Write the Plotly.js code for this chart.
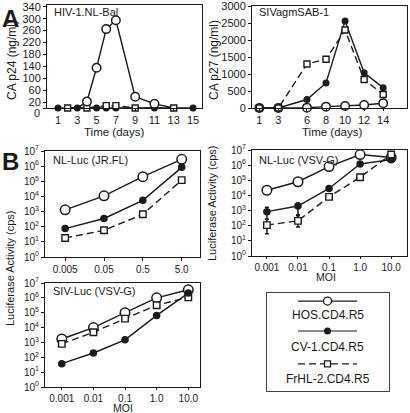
<!DOCTYPE html>
<html>
<head>
<meta charset="utf-8">
<script src="https://cdn.plot.ly/plotly-3.0.1.min.js"></script>
<style>html,body{margin:0;padding:0;background:#fff;}#chart{width:410px;height:413px;}</style>
</head>
<body>
<div id="chart"></div>
<script>
// ---------- DATA ----------
var seriesNames = ['HOS.CD4.R5', 'CV-1.CD4.R5', 'FrHL-2.CD4.R5'];

// Panel A left: HIV-1.NL-Bal, CA p24 (ng/ml)
var hivHosDays = [3, 4, 5, 6, 7, 9, 11, 13];
var hivHosP24  = [0, 22, 135, 265, 295, 38, 14, 0];
var hivCvDays  = [1, 3, 5, 6, 7, 11, 15];
var hivCvP24   = [0, 0, 0, 0, 0, 0, 0];
var hivFrDays  = [2, 4, 6, 7, 9, 13];
var hivFrP24   = [0, 0, 8, 8, 0, 0];
var hivYTicks  = [0, 20, 60, 100, 140, 180, 220, 260, 300, 340];
var hivXTicks  = [1, 3, 5, 7, 9, 11, 13, 15];

// Panel A right: SIVagmSAB-1, CA p27 (ng/ml)
var sivDays   = [1, 3, 6, 8, 10, 12, 14];
var sivHosP27 = [0, 0, 10, 40, 60, 90, 140];
var sivCvP27  = [0, 0, 250, 740, 2570, 1040, 600];
var sivFrP27  = [0, 0, 1300, 1440, 2300, 840, 400];
var sivYTicks = [0, 500, 1000, 1500, 2000, 2500, 3000];
var sivXTicks = [1, 3, 6, 8, 10, 12, 14];

// Panel B: luciferase activity (cps)
var jrMoi    = [0.005, 0.05, 0.5, 5.0];
var jrMoiLab = ['0.005', '0.05', '0.5', '5.0'];
var jrHos    = [1300, 11000, 200000, 2800000];
var jrCv     = [75, 350, 5500, 830000];
var jrFr     = [18, 58, 660, 120000];

var vsvMoi    = [0.001, 0.01, 0.1, 1.0, 10.0];
var vsvMoiLab = ['0.001', '0.01', '0.1', '1.0', '10.0'];
var nlHos = [22000, 80000, 800000, 5000000, 3200000];
var nlCv  = [850, 2000, 29000, 1200000, 2300000];
var nlFr  = [110, 210, 8000, 160000, 5000000];
var nlCvHigh = [1660, 3090, null, null, null];
var nlCvLow  = [270, 525, null, null, null];
var nlFrHigh = [270, 457, null, null, null];
var nlFrLow  = [29, 81, null, null, null];

var sivLHos = [1700, 10000, 100000, 1000000, 3500000];
var sivLCv  = [37, 195, 1500, 66000, 2100000];
var sivLFr  = [800, 4800, 40000, 320000, 1070000];

var logTickVals = [1, 10, 100, 1000, 10000, 100000, 1000000, 10000000];
var logTickText = ['0','1','2','3','4','5','6','7'].map(function(e){return '10<sup>' + e + '</sup>';});

// ---------- STYLE ----------
var W = 410, H = 413;
var FONT = 'Liberation Sans, Arial, sans-serif';
var INK = '#1a1a1a';
function dx(a, b) { return [a / W, b / W]; }
function dy(top, bottom) { return [1 - bottom / H, 1 - top / H]; }

function hosStyle(sz) { return {mode: 'lines+markers', line: {color: INK, width: 1.4},
  marker: {symbol: 'circle', size: sz, color: '#ffffff', opacity: 1, line: {color: INK, width: 1.5}}}; }
function cvStyle(sz) { return {mode: 'lines+markers', line: {color: INK, width: 1.4},
  marker: {symbol: 'circle', size: sz, color: INK, opacity: 1, line: {color: INK, width: 0}}}; }
function frStyle(sz) { return {mode: 'lines+markers', line: {color: INK, width: 1.4, dash: '7px,4px'},
  marker: {symbol: 'square', size: sz, color: '#ffffff', opacity: 1, line: {color: INK, width: 1.4}}}; }

function tr(style, x, y, xa, ya, extra) {
  var t = style;
  t.x = x; t.y = y; t.xaxis = xa; t.yaxis = ya; t.showlegend = false; t.hoverinfo = 'skip';
  t.cliponaxis = false;
  if (extra) for (var k in extra) t[k] = extra[k];
  return t;
}
function errArr(v, hi, lo) {
  return {type: 'data', symmetric: false, color: INK, thickness: 1.5, width: 2,
    array: v.map(function(val, i){ return hi[i] == null ? 0 : hi[i] - val; }),
    arrayminus: v.map(function(val, i){ return lo[i] == null ? 0 : val - lo[i]; }),
    visible: true};
}

var data = [];
// A left: HOS line spans days 3-13, markers only where visible in the figure
data.push(tr(hosStyle(8.5), hivHosDays, hivHosP24, 'x', 'y', {mode: 'lines'}));
data.push(tr(cvStyle(7), hivCvDays, hivCvP24, 'x', 'y'));
data.push(tr(frStyle(6), hivFrDays, hivFrP24, 'x', 'y'));
data.push(tr(hosStyle(8.5), hivHosDays.slice(1, -1), hivHosP24.slice(1, -1), 'x', 'y', {mode: 'markers'}));
// A right
data.push(tr(hosStyle(8.5), sivDays, sivHosP27, 'x2', 'y2'));
data.push(tr(cvStyle(7), sivDays, sivCvP27, 'x2', 'y2'));
data.push(tr(frStyle(6), sivDays, sivFrP27, 'x2', 'y2'));
// B1
data.push(tr(hosStyle(9.5), jrMoi, jrHos, 'x3', 'y3'));
data.push(tr(cvStyle(7.5), jrMoi, jrCv, 'x3', 'y3'));
data.push(tr(frStyle(6.5), jrMoi, jrFr, 'x3', 'y3'));
// B2
data.push(tr(hosStyle(9.5), vsvMoi, nlHos, 'x4', 'y4'));
data.push(tr(cvStyle(7.5), vsvMoi, nlCv, 'x4', 'y4', {error_y: errArr(nlCv, nlCvHigh, nlCvLow)}));
data.push(tr(frStyle(6.5), vsvMoi, nlFr, 'x4', 'y4', {error_y: errArr(nlFr, nlFrHigh, nlFrLow)}));
// B3
data.push(tr(hosStyle(9.5), vsvMoi, sivLHos, 'x5', 'y5'));
data.push(tr(frStyle(6.5), vsvMoi, sivLFr, 'x5', 'y5'));
data.push(tr(cvStyle(7.5), vsvMoi, sivLCv, 'x5', 'y5'));
// Legend (drawn on its own hidden axis pair)
var legendStyleFns = [hosStyle, cvStyle, frStyle];
var legendLineY = [0.918, 0.612, 0.276];
var legendTextY = [0.776, 0.449, 0.122];
var legendMarkerSizes = [8, 7, 6];
seriesNames.forEach(function(name, i) {
  var t = tr(legendStyleFns[i](legendMarkerSizes[i]), [0.254, 0.496, 0.738],
             [legendLineY[i], legendLineY[i], legendLineY[i]], 'x6', 'y6');
  t.marker.size = [0, legendMarkerSizes[i], 0];
  t.line.width = 1.2;
  if (i !== 1) t.marker.line.width = 1.3;
  data.push(t);
});

var tickFont = {family: FONT, size: 11, color: INK};
var bTickFont = {family: FONT, size: 10, color: INK};
function baseAxis(extra) {
  var a = {showline: true, mirror: true, linecolor: INK, linewidth: 1, ticks: 'outside', ticklen: 3,
    tickwidth: 1, tickcolor: INK, showgrid: false, zeroline: false, tickfont: tickFont, fixedrange: true,
    ticklabeloverflow: 'allow'};
  for (var k in extra) a[k] = extra[k];
  return a;
}
// A-left "0" label sits below its tick in the figure; it is drawn as an annotation
var hivYTickText = hivYTicks.map(function(v){ return v === 0 ? ' ' : String(v); });

var layout = {
  width: W, height: H, margin: {l: 0, r: 0, t: 0, b: 0},
  paper_bgcolor: '#fff', plot_bgcolor: '#fff', showlegend: false,
  font: {family: FONT, color: INK},
  xaxis:  baseAxis({anchor: 'y',  domain: dx(47, 202),  range: [-0.14, 15.93], tickmode: 'array', tickvals: hivXTicks, ticklen: 2}),
  yaxis:  baseAxis({anchor: 'x',  domain: dy(5, 108),   range: [0, 346], tickmode: 'array', tickvals: hivYTicks, ticktext: hivYTickText}),
  xaxis2: baseAxis({anchor: 'y2', domain: dx(252, 407), range: [0.23, 16.5], tickmode: 'array', tickvals: sivXTicks, ticklen: 2}),
  yaxis2: baseAxis({anchor: 'x2', domain: dy(6, 108),   range: [0, 3010], tickmode: 'array', tickvals: sivYTicks}),
  xaxis3: baseAxis({anchor: 'y3', domain: dx(45, 200),  type: 'log', range: [-2.82, 1.17], tickmode: 'array', tickvals: jrMoi, ticktext: jrMoiLab, tickfont: bTickFont}),
  yaxis3: baseAxis({anchor: 'x3', domain: dy(151, 257), type: 'log', range: [0, 7], tickmode: 'array', tickvals: logTickVals, ticktext: logTickText, tickfont: bTickFont}),
  xaxis4: baseAxis({anchor: 'y4', domain: dx(252, 407), type: 'log', range: [-3.48, 1.51], tickmode: 'array', tickvals: vsvMoi, ticktext: vsvMoiLab, tickfont: bTickFont, ticklen: 2}),
  yaxis4: baseAxis({anchor: 'x4', domain: dy(150, 256), type: 'log', range: [0, 7], tickmode: 'array', tickvals: logTickVals, ticktext: logTickText, tickfont: bTickFont}),
  xaxis5: baseAxis({anchor: 'y5', domain: dx(45, 200),  type: 'log', range: [-3.53, 1.37], tickmode: 'array', tickvals: vsvMoi, ticktext: vsvMoiLab, tickfont: bTickFont, ticklen: 2}),
  yaxis5: baseAxis({anchor: 'x5', domain: dy(283, 387), type: 'log', range: [0, 7], tickmode: 'array', tickvals: logTickVals, ticktext: logTickText, tickfont: bTickFont}),
  xaxis6: {anchor: 'y6', domain: dx(267, 389), range: [0, 1], showline: true, mirror: true, linecolor: '#444', linewidth: 1,
    showticklabels: false, ticks: '', showgrid: false, zeroline: false, fixedrange: true},
  yaxis6: {anchor: 'x6', domain: dy(293, 391), range: [0, 1], showline: true, mirror: true, linecolor: '#444', linewidth: 1,
    showticklabels: false, ticks: '', showgrid: false, zeroline: false, fixedrange: true},
  annotations: []
};

function ann(text, x, y, opts) {
  var a = {text: text, x: x, y: y, xref: 'paper', yref: 'paper', showarrow: false,
    font: {family: FONT, size: 12, color: INK}, xanchor: 'center', yanchor: 'middle'};
  for (var k in opts) a[k] = opts[k];
  layout.annotations.push(a);
}
function px(xp) { return xp / W; }
function py(yp) { return 1 - yp / H; }

// Panel letters
ann('<b>A</b>', px(10), py(18), {font: {family: FONT, size: 24, color: INK}});
ann('<b>B</b>', px(10), py(161), {font: {family: FONT, size: 24, color: INK}});
// Panel inner titles
var inner = {font: {family: FONT, size: 11, color: INK}, xanchor: 'left'};
ann('HIV-1.NL-Bal', px(52), py(12), inner);
ann('SIVagmSAB-1', px(257), py(12), inner);
ann('NL-Luc (JR.FL)', px(51), py(160), inner);
ann('NL-Luc (VSV-G)', px(257), py(160), inner);
ann('SIV-Luc (VSV-G)', px(51), py(291), inner);
// "0" of A-left y axis, drawn slightly below the axis as in the figure
ann(String(hivYTicks[0]), px(42), py(113), {font: tickFont, xanchor: 'right'});
// Axis titles
var axT = {font: {family: FONT, size: 11.5, color: INK}};
ann('Time (days)', px(114), py(131.5), axT);
ann('Time (days)', px(332), py(131.5), axT);
var moiF = {font: {family: FONT, size: 10.5, color: INK}};
ann('MOI', px(326), py(277), moiF);
ann('MOI', px(123), py(407.5), moiF);
var yT = {font: {family: FONT, size: 12, color: INK}, textangle: -90};
ann('CA p24 (ng/ml)', px(12), py(60), yT);
ann('CA p27 (ng/ml)', px(214), py(60), yT);
ann('Luciferase Activity (cps)', px(212), py(203), {font: {family: FONT, size: 11, color: INK}, textangle: -90});
ann('Luciferase Activity (cps)', px(10), py(268), {font: {family: FONT, size: 11, color: INK}, textangle: -90});
// Legend labels
seriesNames.forEach(function(name, i) {
  layout.annotations.push({text: name, x: 0.496, y: legendTextY[i], xref: 'x6', yref: 'y6', showarrow: false,
    font: {family: FONT, size: 12, color: INK}, xanchor: 'center', yanchor: 'middle'});
});

Plotly.newPlot('chart', data, layout, {staticPlot: true, displayModeBar: false});
</script>
</body>
</html>
